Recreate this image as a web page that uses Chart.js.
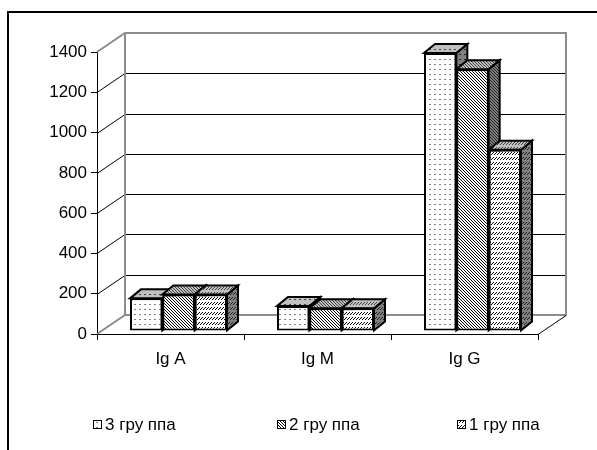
<!DOCTYPE html>
<html>
<head>
<meta charset="utf-8">
<script src="https://cdn.jsdelivr.net/npm/chart.js@4.4.1/dist/chart.umd.min.js"></script>
<style>
  html, body { margin: 0; padding: 0; background: #fff; }
  #c { display: block; }
</style>
</head>
<body>
<canvas id="c" width="597" height="450"></canvas>
<script>
// ---- data ----
const categories = ['Ig A', 'Ig M', 'Ig G'];
const seriesNames = ['3 гру ппа', '2 гру ппа', '1 гру ппа'];
const group3 = [162, 124, 1380];
const group2 = [181, 113, 1300];
const group1 = [181, 113, 900];
const yTicks = [0, 200, 400, 600, 800, 1000, 1200, 1400];

// ---- look ----
const FONT = "'Liberation Sans', Arial, sans-serif";
const FONT_SIZE = 17;
const WALL = { x: 28, y: -19 };      // depth of the floor / side walls
const BAR_SHIFT = { x: 8, y: -3 };   // bar front plane behind the axis plane
const BAR_DEPTH = { x: 11, y: -9 };  // depth of each column

function makePattern(w, h, bg, fg, pixels) {
  const c = document.createElement('canvas');
  c.width = w; c.height = h;
  const g = c.getContext('2d');
  g.fillStyle = bg; g.fillRect(0, 0, w, h);
  g.fillStyle = fg;
  pixels.forEach(([x, y]) => g.fillRect(x, y, 1, 1));
  return g.createPattern(c, 'repeat');
}
// fill motifs: sparse dots, fine back-diagonal hatch, dashed forward diagonals
const DOTS = [[1, 2], [2, 2]];
const HATCH = [[0, 0], [1, 1], [2, 2]];
const DASHES = [[2, 0], [1, 1], [0, 2]];
const motifs = [
  { w: 5, h: 5, px: DOTS, fg: '#808080' },
  { w: 3, h: 3, px: HATCH, fg: '#000000' },
  { w: 3, h: 5, px: DASHES, fg: '#000000' }
];
const frontFills = motifs.map(m => makePattern(m.w, m.h, '#ffffff', m.fg, m.px));
const topFills = motifs.map(m => makePattern(m.w, m.h, '#c0c0c0', '#404040', m.px));
const sideFills = motifs.map(m => makePattern(m.w, m.h, '#808080', '#202020', m.px));

function face(ctx, pts, fill) {
  ctx.beginPath();
  ctx.moveTo(pts[0][0], pts[0][1]);
  for (let i = 1; i < pts.length; i++) ctx.lineTo(pts[i][0], pts[i][1]);
  ctx.closePath();
  ctx.fillStyle = fill;
  ctx.fill();
  ctx.lineWidth = 2;
  ctx.lineJoin = 'miter';
  ctx.strokeStyle = '#000';
  ctx.stroke();
}

const framePlugin = {
  id: 'frame',
  beforeDraw(chart) {
    const ctx = chart.ctx;
    ctx.save();
    ctx.fillStyle = '#fff';
    ctx.fillRect(0, 0, chart.width, chart.height);
    ctx.strokeStyle = '#000';
    ctx.lineWidth = 2;
    ctx.beginPath();
    ctx.moveTo(8, chart.height);
    ctx.lineTo(8, 12);
    ctx.lineTo(chart.width, 12);
    ctx.stroke();
    ctx.restore();
  }
};

const depthPlugin = {
  id: 'depth',
  beforeDatasetsDraw(chart) {
    const { ctx, chartArea: a } = chart;
    const ys = chart.scales.y;
    const L = a.left, R = a.right;
    const T = ys.getPixelForValue(yTicks[yTicks.length - 1]);
    const B = ys.getPixelForValue(0);
    ctx.save();
    // gridlines on side and back walls
    ctx.strokeStyle = '#000';
    ctx.lineWidth = 1;
    yTicks.slice(1, -1).forEach(v => {
      const py = Math.round(ys.getPixelForValue(v)) + 0.5;
      ctx.beginPath();
      ctx.moveTo(L, py);
      ctx.lineTo(L + WALL.x, py + WALL.y);
      ctx.lineTo(R + WALL.x, py + WALL.y);
      ctx.stroke();
    });
    // wall edges
    ctx.strokeStyle = '#8c8c8c';
    ctx.lineWidth = 2;
    ctx.beginPath();
    ctx.moveTo(L, T);
    ctx.lineTo(L + WALL.x, T + WALL.y);
    ctx.lineTo(R + WALL.x, T + WALL.y);
    ctx.lineTo(R + WALL.x, B + WALL.y);
    ctx.lineTo(L + WALL.x, B + WALL.y);
    ctx.lineTo(L, B);
    ctx.moveTo(L + WALL.x, T + WALL.y);
    ctx.lineTo(L + WALL.x, B + WALL.y);
    ctx.stroke();
    // floor right edge
    ctx.strokeStyle = '#000';
    ctx.lineWidth = 1;
    ctx.beginPath();
    ctx.moveTo(R, B + 0.5);
    ctx.lineTo(R + WALL.x, B + WALL.y + 0.5);
    ctx.stroke();

    // column tops and right sides, left to right, then the fronts follow
    ctx.save();
    ctx.translate(BAR_SHIFT.x, BAR_SHIFT.y);
    for (let i = 0; i < categories.length; i++) {
      chart.data.datasets.forEach((ds, d) => {
        const bar = chart.getDatasetMeta(d).data[i];
        const { x, y, base, width } = bar.getProps(['x', 'y', 'base', 'width'], true);
        const l = x - width / 2, r = x + width / 2;
        const t = Math.min(y, base), b = Math.max(y, base);
        face(ctx, [[r, t], [r + BAR_DEPTH.x, t + BAR_DEPTH.y], [r + BAR_DEPTH.x, b + BAR_DEPTH.y], [r, b]], sideFills[d]);
        face(ctx, [[l, t], [r, t], [r + BAR_DEPTH.x, t + BAR_DEPTH.y], [l + BAR_DEPTH.x, t + BAR_DEPTH.y]], topFills[d]);
      });
    }
    // translation stays on for the column fronts drawn next
  },
  afterDatasetsDraw(chart) {
    chart.ctx.restore();
    chart.ctx.restore();
  }
};

const legendPlugin = {
  id: 'legend3d',
  afterDraw(chart) {
    const ctx = chart.ctx;
    const boxX = [93, 277, 457];
    const yMid = 424;
    ctx.save();
    ctx.font = FONT_SIZE + 'px ' + FONT;
    ctx.textBaseline = 'middle';
    seriesNames.forEach((name, i) => {
      ctx.fillStyle = frontFills[i];
      ctx.fillRect(boxX[i], yMid - 4, 8, 8);
      ctx.strokeStyle = '#000';
      ctx.lineWidth = 1;
      ctx.strokeRect(boxX[i] + 0.5, yMid - 4 + 0.5, 8, 8);
      ctx.fillStyle = '#000';
      ctx.fillText(name, boxX[i] + 12, yMid + 1);
    });
    ctx.restore();
  }
};

new Chart(document.getElementById('c'), {
  type: 'bar',
  data: {
    labels: categories,
    datasets: [group3, group2, group1].map((vals, d) => ({
      label: seriesNames[d],
      data: vals,
      backgroundColor: frontFills[d],
      borderColor: '#000',
      borderWidth: 2,
      borderSkipped: false,
      categoryPercentage: 0.66,
      barPercentage: 1,
      clip: false
    }))
  },
  options: {
    responsive: false,
    animation: false,
    events: [],
    layout: { padding: { left: 0, top: 52, right: 59, bottom: 0 } },
    plugins: { legend: { display: false }, tooltip: { enabled: false } },
    scales: {
      x: {
        offset: true,
        grid: { offset: true, drawOnChartArea: false, drawTicks: true, tickLength: 6, color: '#000', lineWidth: 1 },
        border: { display: true, color: '#000', width: 1 },
        ticks: { color: '#000', font: { family: FONT, size: FONT_SIZE }, padding: 9 },
        afterFit(scale) { scale.height = 116; }
      },
      y: {
        min: 0,
        max: 1400,
        afterBuildTicks(scale) { scale.ticks = yTicks.map(v => ({ value: v })); },
        grid: { drawOnChartArea: false, drawTicks: true, tickLength: 6, color: '#000', lineWidth: 1 },
        border: { display: true, color: '#000', width: 1 },
        ticks: { color: '#000', font: { family: FONT, size: FONT_SIZE }, padding: 4, callback: v => String(v) },
        afterFit(scale) { scale.width = 97; }
      }
    }
  },
  plugins: [framePlugin, depthPlugin, legendPlugin]
});
</script>
</body>
</html>
